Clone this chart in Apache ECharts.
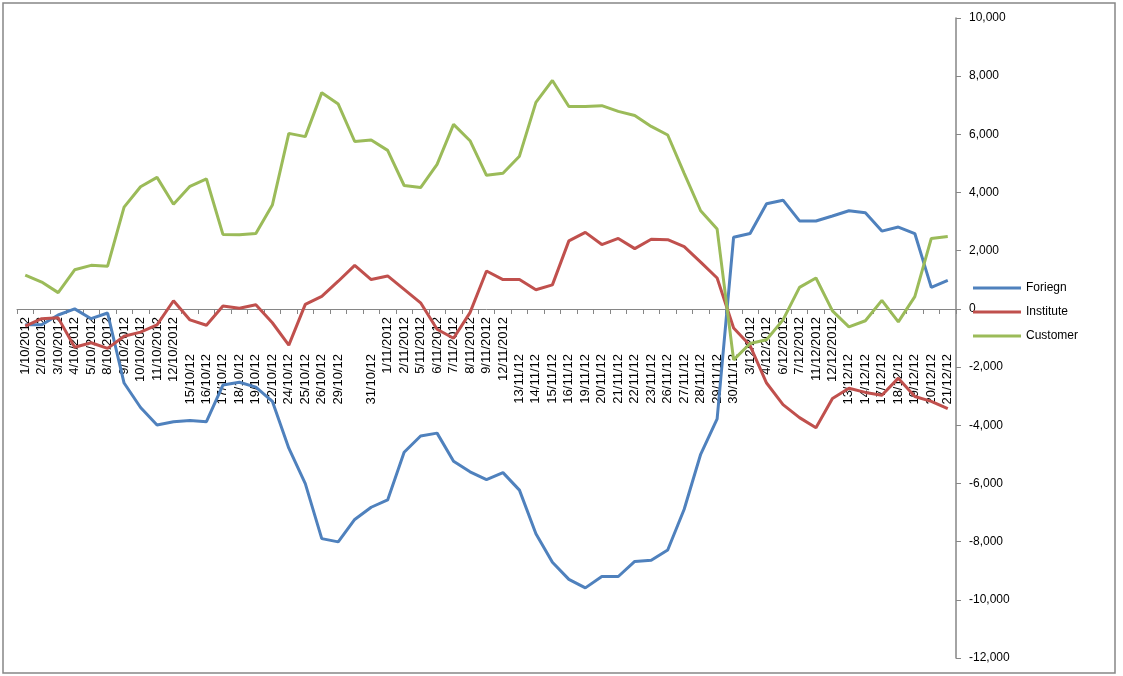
<!DOCTYPE html>
<html>
<head>
<meta charset="utf-8">
<script src="https://cdn.jsdelivr.net/npm/echarts@6/dist/echarts.min.js"></script>
<style>
    html, body { margin: 0; padding: 0; background: #fff; }
    #chart { width: 1123px; height: 676px; }
</style>
</head>
<body>
<div id="chart"></div>
<script>
// trading dates (one day has no label in the sheet)
const dates = [
    '1/10/2012', '2/10/2012', '3/10/2012', '4/10/2012', '5/10/2012', '8/10/2012', '9/10/2012', '10/10/2012', '11/10/2012', '12/10/2012',
    '15/10/12', '16/10/12', '17/10/12', '18/10/12', '19/10/12', '22/10/12', '24/10/12', '25/10/12', '26/10/12', '29/10/12',
    '', '31/10/12',
    '1/11/2012', '2/11/2012', '5/11/2012', '6/11/2012', '7/11/2012', '8/11/2012', '9/11/2012', '12/11/2012',
    '13/11/12', '14/11/12', '15/11/12', '16/11/12', '19/11/12', '20/11/12', '21/11/12', '22/11/12', '23/11/12', '26/11/12',
    '27/11/12', '28/11/12', '29/11/12', '30/11/12',
    '3/12/2012', '4/12/2012', '6/12/2012', '7/12/2012', '11/12/2012', '12/12/2012',
    '13/12/12', '14/12/12', '17/12/12', '18/12/12', '19/12/12', '20/12/12', '21/12/12'
]
const foriegn = [
    -546, -546, -210, 0, -336, -140, -2548, -3388, -3990, -3878, -3836, -3878,
    -2618, -2520, -2688, -3178, -4788, -6006, -7896, -8008, -7238, -6818, -6566,
    -4928, -4368, -4270, -5236, -5600, -5866, -5628, -6230, -7728, -8708, -9296, -9590,
    -9198, -9198, -8680, -8638, -8288, -6888, -4998, -3780, 2464, 2590, 3612,
    3738, 3024, 3024, 3192, 3374, 3304, 2674, 2814, 2590, 742, 980
]
const institute = [
    -588, -336, -308, -1316, -1162, -1358, -938, -798, -546, 280, -378, -560,
    98, 20, 140, -476, -1246, 154, 434, 952, 1498, 1008, 1134,
    672, 210, -700, -1008, -126, 1302, 1008, 1008, 658, 826, 2338, 2632,
    2212, 2422, 2072, 2394, 2380, 2142, 1610, 1064, -658, -1260, -2548,
    -3290, -3738, -4088, -3080, -2730, -2870, -2968, -2380, -3010, -3178, -3430
]
const customer = [
    1162, 924, 560, 1344, 1498, 1470, 3500, 4200, 4522, 3598, 4214, 4466,
    2562, 2548, 2590, 3570, 6034, 5922, 7434, 7042, 5754, 5810, 5450,
    4242, 4172, 4970, 6342, 5782, 4592, 4662, 5250, 7098, 7854, 6958, 6958,
    6986, 6790, 6650, 6272, 5978, 4662, 3374, 2744, -1750, -1190, -1060,
    -378, 742, 1064, -70, -616, -406, 294, -448, 420, 2422, 2492
]
const seriesNames = ['Foriegn', 'Institute', 'Customer']
const colors = ['#4F81BD', '#C0504D', '#9BBB59']
const yMin = -12000
const yMax = 10000

const font = 'Liberation Sans, Arial, sans-serif'
const axisGray = '#868686'

const gridTop = 18
const gridBottom = 18
const gridHeight = 676 - gridTop - gridBottom
// move the category axis up so it sits on the zero line, like Excel does
const zeroOffset = -Math.round(gridHeight * (0 - yMin) / (yMax - yMin))

const chart = echarts.init(document.getElementById('chart'))

function makeLine(name, data, i) {
    return {
        name: name,
        type: 'line',
        data: data,
        symbol: 'none',
        lineStyle: { width: 3, color: colors[i] },
        itemStyle: { color: colors[i] }
    }
}

chart.setOption({
    animation: false,
    color: colors,
    textStyle: { fontFamily: font },
    grid: {
        left: 17,
        right: 167,
        top: gridTop,
        bottom: gridBottom,
        containLabel: false,
        outerBoundsMode: 'none'
    },
    legend: {
        orient: 'vertical',
        left: 968,
        top: 277,
        icon: 'rect',
        itemWidth: 48,
        itemHeight: 3,
        itemGap: 12,
        data: seriesNames,
        textStyle: { fontSize: 12, color: '#000', fontFamily: font }
    },
    xAxis: {
        type: 'category',
        data: dates,
        boundaryGap: true,
        offset: zeroOffset,
        axisLine: { onZero: false, lineStyle: { color: axisGray, width: 1 } },
        axisTick: { show: true, length: 5, lineStyle: { color: axisGray } },
        axisLabel: {
            interval: 0,
            rotate: 90,
            margin: 8,
            color: '#000',
            fontSize: 13,
            fontFamily: font,
            hideOverlap: false,
            formatter: function (v) {
                if (!v) return ''
                return /\/\d{4}$/.test(v) ? '{a|' + v + '}' : '{b|' + v + '}'
            },
            rich: {
                a: { fontSize: 13, fontFamily: font, color: '#000' },
                b: { fontSize: 13, fontFamily: font, color: '#000', padding: [0, 37, 0, 0] }
            }
        },
        splitLine: { show: false }
    },
    yAxis: {
        type: 'value',
        position: 'right',
        min: yMin,
        max: yMax,
        interval: 2000,
        axisLine: { show: true, lineStyle: { color: axisGray, width: 1.5 } },
        axisTick: { show: true, length: 5, lineStyle: { color: axisGray } },
        axisLabel: {
            margin: 13,
            color: '#000',
            fontSize: 12,
            fontFamily: font,
            formatter: function (v) { return v.toLocaleString('en-US') }
        },
        splitLine: { show: false }
    },
    graphic: [{
        type: 'rect',
        shape: { x: 3, y: 3, width: 1112, height: 670 },
        style: { fill: 'none', stroke: axisGray, lineWidth: 1.5 },
        silent: true
    }],
    series: [
        makeLine(seriesNames[0], foriegn, 0),
        makeLine(seriesNames[1], institute, 1),
        makeLine(seriesNames[2], customer, 2)
    ]
})
</script>
</body>
</html>
